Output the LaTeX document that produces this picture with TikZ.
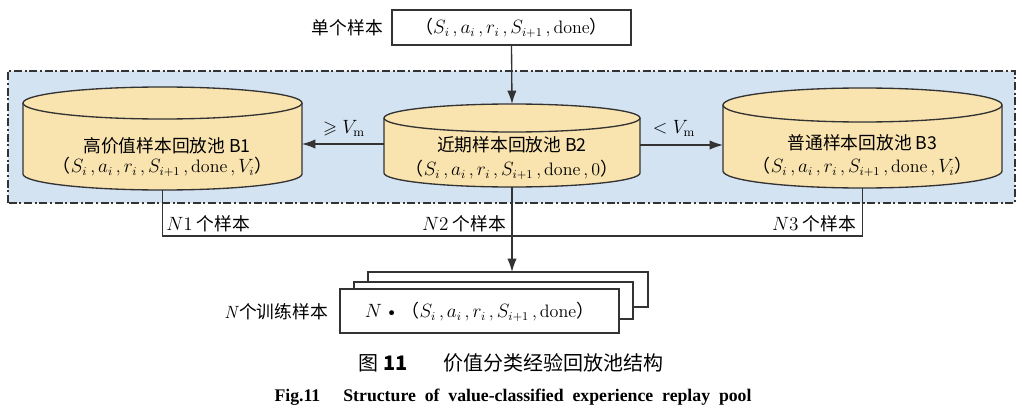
\documentclass[tikz,border=0pt]{standalone}
\usepackage{amssymb}
\usepackage{fontspec}
\newfontfamily\cjk{Noto Sans CJK SC}
\newfontfamily\engcap{Liberation Serif}
\usetikzlibrary{arrows.meta}
\definecolor{regionblue}{HTML}{D4E3F2}
\definecolor{drumtan}{HTML}{F9E3AF}
\definecolor{edgegrey}{HTML}{333333}
\newcommand\cm{\,,\,}
\newcommand\tup[1]{{\cjk （}$S_i$\cm$a_i$\cm$r_i$\cm$S_{i+1}$\cm done#1{\cjk ）}}
\newcommand\drum[6]{% name, cx, ytop, ybot, rx, ry
  \fill[drumtan] (#2-#5,#3) -- (#2-#5,#4) arc[start angle=180,end angle=360,x radius=#5,y radius=#6] -- (#2+#5,#3) arc[start angle=0,end angle=180,x radius=#5,y radius=#6] -- cycle;
  \draw[drumline] (#2-#5,#3) -- (#2-#5,#4) arc[start angle=180,end angle=360,x radius=#5,y radius=#6] -- (#2+#5,#3);
  \draw[drumline] (#2,#3) ellipse[x radius=#5,y radius=#6];
  \coordinate (#1-top) at (#2,#3+#6);
  \coordinate (#1-bot) at (#2,#4-#6);
}
\begin{document}
\begin{tikzpicture}[x=0.75pt,y=0.75pt,
  drumline/.style={draw=edgegrey,line width=1pt},
  box/.style={draw=edgegrey,line width=1pt,fill=white},
  conn/.style={draw=edgegrey,line width=1pt},
  arr/.style={conn,-{Latex[length=10pt,width=7pt]}},
  txt/.style={inner sep=0pt,font=\fontsize{13.5}{15}\selectfont},
  cj/.style={txt,font=\fontsize{13.3}{15}\selectfont\cjk}]
\useasboundingbox (0,0) rectangle (1030,415);
% region
\filldraw[fill=regionblue,draw=edgegrey,line width=0.8pt,dash pattern=on 6pt off 2pt on 1.5pt off 2pt] (8,212) rectangle (1015,344);
% top box
\node[box,minimum width=239*0.75pt,minimum height=35*0.75pt,inner sep=0pt] (in) at (511.5,387.5) {};
\node[txt] (intxt) at (511.5,387.5) {\tup{}};
\node[cj,anchor=east] (inlbl) at (383,387.5) {单个样本};
% drums
\drum{b1}{162.5}{312}{241}{139.5}{16}
\drum{b2}{512}{297}{242}{128}{14}
\drum{b3}{862.5}{310}{244}{139.5}{17}
\node[cj] (b1a) at (167,269) {高价值样本回放池 B1};
\node[txt] (b1b) at (162.5,248) {\tup{\cm$V_i$}};
\node[cj] (b2a) at (512,270) {近期样本回放池 B2};
\node[txt] (b2b) at (512,245) {\tup{\cm 0}};
\node[cj] (b3a) at (862.5,272) {普通样本回放池 B3};
\node[txt] (b3b) at (862.5,248) {\tup{\cm$V_i$}};
\coordinate (b2w) at (384,271);
\coordinate (b1e) at (302,271);
\coordinate (b2e) at (640,270);
\coordinate (b3w) at (723,270);
\draw[arr] (b2w) -- (b1e);
\draw[arr] (b2e) -- (b3w);
\node[txt] (ge) at (344,287) {$\geqslant V_{\mathrm{m}}$};
\node[txt] (lt) at (674,287) {$< V_{\mathrm{m}}$};
\draw[arr] (in.south) -- (b2-top);
% stack
\node[box,minimum width=280*0.75pt,minimum height=35*0.75pt,inner sep=0pt] (s3) at (508,125.5) {};
\node[box,minimum width=279*0.75pt,minimum height=37*0.75pt,inner sep=0pt] (s2) at (493.5,114.5) {};
\node[box,minimum width=279*0.75pt,minimum height=44*0.75pt,inner sep=0pt] (s1) at (479.5,104) {};
\node[txt] (s1t) at (479.5,103) {$N$\,\textbullet\,\tup{}};
\node[cj,anchor=east] (slbl) at (328,103) {\textit{\fontspec{Latin Modern Roman}N}个训练样本};
% bottom connectors
\coordinate (j1) at (162.5,179);
\coordinate (j3) at (862.5,179);
\coordinate (s3top) at (512,143);
\draw[conn] (b1-bot) -- (j1) -- (j3) -- (b3-bot);
\draw[arr] (b2-bot) -- (s3top);
\node[cj,anchor=west] (n1) at (166,191) {$N1$ 个样本};
\node[cj,anchor=east] (n2) at (506,191) {$N2$ 个样本};
\node[cj,anchor=east] (n3) at (856,191) {$N3$ 个样本};
% captions
\node[cj,font=\fontsize{15}{17}\selectfont\cjk] (cap1) at (511,52) {图 {\bfseries 11}\hspace{1.8em}价值分类经验回放池结构};
\node[txt,font=\fontsize{13.3}{15}\selectfont\engcap\bfseries] (cap2) at (513,18) {Fig.11\hspace{1.3em}Structure\ \ of\ \ value-classified\ \ experience\ \ replay\ \ pool};
\end{tikzpicture}
\end{document}
